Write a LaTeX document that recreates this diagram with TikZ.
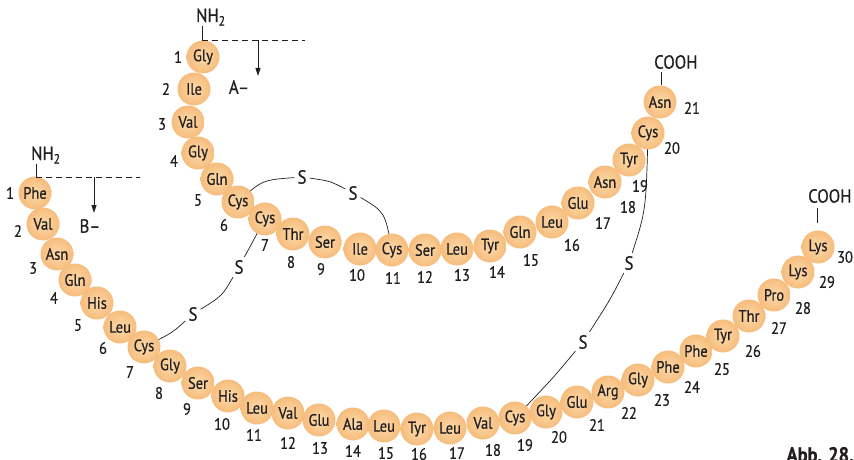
\documentclass[tikz,border=0pt]{standalone}
\usepackage{fontspec}
\setmainfont{PT Sans}[FakeStretch=0.88, FakeBold=0.6]
\usetikzlibrary{arrows.meta,backgrounds}

\definecolor{ink}{HTML}{231F20}
\definecolor{ballin}{HTML}{FCDAAA}
\definecolor{ballout}{HTML}{F6BC7C}

\begin{document}
\begin{tikzpicture}[x=1pt, y=-1pt,
  aa/.style={circle, minimum size=33pt, inner sep=0pt, shading=radial, inner color=ballin, outer color=ballout, text=ink, font=\fontsize{16.5}{16.5}\selectfont},
  num/.style={text=ink, inner sep=0pt, font=\fontsize{16.5}{16.5}\selectfont},
  sulfur/.style={text=ink, inner sep=3pt, font=\fontsize{19}{19}\selectfont},
  term/.style={text=ink, inner sep=0pt, font=\fontsize{19}{19}\selectfont},
  bond/.style={ink, line width=0.7pt},
  stub/.style={ink, line width=0.8pt},
  cut/.style={ink, line width=0.8pt, dash pattern=on 6pt off 4pt},
  split/.style={ink, line width=0.8pt, -{Triangle[length=8pt, width=5pt]}},
]
\useasboundingbox (0,0) rectangle (854,460);

% ── A chain (21 residues) ──
\foreach \i/\res/\x/\y/\nx/\ny in {
  1/Gly/203/57/178/57, 2/Ile/194/89/166/89, 3/Val/188/122/162/124,
  4/Gly/198/153/174/161, 5/Gln/217/179/198/200, 6/Cys/238/202/224/225,
  7/Cys/265/219/265/245, 8/Thr/293/234/291/262, 9/Ser/325/242/321/269,
  10/Ile/360/249/357/275, 11/Cys/392/250/393/278, 12/Ser/425/250/425/277,
  13/Leu/457/249/462/275, 14/Tyr/490/246/497/272, 15/Gln/520/232/531/260,
  16/Leu/552/222/572/245, 17/Glu/578/203/603/223, 18/Asn/605/182/628/207,
  19/Tyr/629/160/640/186, 20/Cys/648/133/672/148, 21/Asn/660/102/692/108}{
  \node[aa] (a\i) at (\x,\y) {\res};
  \node[num] (na\i) at (\nx,\ny) {\i};
}

% ── B chain (30 residues) ──
\foreach \i/\res/\x/\y/\nx/\ny in {
  1/Phe/35/193/10/193, 2/Val/43/224/18/231, 3/Asn/57/254/33/268,
  4/Gln/75/280/54/298, 5/His/97/303/78/325, 6/Leu/120/327/103/348,
  7/Cys/144/347/130/372, 8/Gly/170/366/159/393, 9/Ser/198/383/187/409,
  10/His/228/396/222/424, 11/Leu/257/408/254/435, 12/Val/288/413/288/443,
  13/Glu/319/420/320/448, 14/Ala/353/424/353/451, 15/Leu/384/426/386/453,
  16/Tyr/417/429/419/454, 17/Leu/450/428/457/453, 18/Val/483/423/493/450,
  19/Cys/515/418/525/445, 20/Gly/546/412/559/437, 21/Glu/577/402/597/425,
  22/Arg/608/392/629/413, 23/Gly/638/380/662/400, 24/Phe/668/367/692/387,
  25/Phe/696/351/722/369, 26/Tyr/723/336/753/351, 27/Thr/749/316/779/328,
  28/Pro/774/295/803/308, 29/Lys/798/272/827/282, 30/Lys/818/247/845/257}{
  \node[aa] (b\i) at (\x,\y) {\res};
  \node[num] (nb\i) at (\nx,\ny) {\i};
}

% ── ends of the chains ──
\node[term, anchor=west] (anh) at (196,17) {NH\textsubscript{2}};
\coordinate (acut) at (202,40);
\coordinate (acutend) at (305,40);
\coordinate (asplit) at (258,40);
\coordinate (atip) at (258,76);
\node[term] (alab) at (239,87) {A–};
\draw[stub] (anh.south -| acut) -- (acut);
\draw[cut] (acut) -- (acutend);
\draw[split] (asplit) -- (atip);

\node[term, anchor=west] (bnh) at (31,155) {NH\textsubscript{2}};
\coordinate (bcut) at (36,177);
\coordinate (bcutend) at (140,177);
\coordinate (bsplit) at (94,177);
\coordinate (btip) at (94,213);
\node[term] (blab) at (90,226) {B–};
\draw[stub] (bnh.south -| bcut) -- (bcut);
\draw[cut] (bcut) -- (bcutend);
\draw[split] (bsplit) -- (btip);

\node[term, anchor=west] (acooh) at (654,62) {COOH};
\draw[stub] (661,72) -- (a21.north -| 661,0);
\node[term, anchor=west] (bcooh) at (808,196) {COOH};
\draw[stub] (817,208) -- (817,223);

\node[text=ink, font=\bfseries\fontsize{21}{21}\selectfont, anchor=base west] (abb) at (783,462) {Abb. 28.};

% ── disulfide bridges ──
\node[sulfur] (s1) at (302,177) {S};
\node[sulfur] (s2) at (353,193) {S};
\node[sulfur] (s3) at (239,267) {S};
\node[sulfur] (s4) at (193,314) {S};
\node[sulfur] (s5) at (629,263) {S};
\node[sulfur] (s6) at (583,342) {S};

\begin{pgfonlayer}{background}
  % A6 - A11
  \draw[bond] (a6.center) .. controls (262,180) .. (s1);
  \draw[bond] (s1) .. controls (330,181) .. (s2);
  \draw[bond] (s2) .. controls (385,212) .. (a11.center);
  % A7 - B7
  \draw[bond] (a7.center) -- (s3);
  \draw[bond] (s3) .. controls (222,296) .. (s4);
  \draw[bond] (s4) .. controls (172,333) .. (b7.center);
  % A20 - B19
  \draw[bond] (a20.center) .. controls (646,210) .. (s5);
  \draw[bond] (s5) .. controls (610,300) .. (s6);
  \draw[bond] (s6) .. controls (553,378) .. (b19.center);
\end{pgfonlayer}
\end{tikzpicture}
\end{document}
